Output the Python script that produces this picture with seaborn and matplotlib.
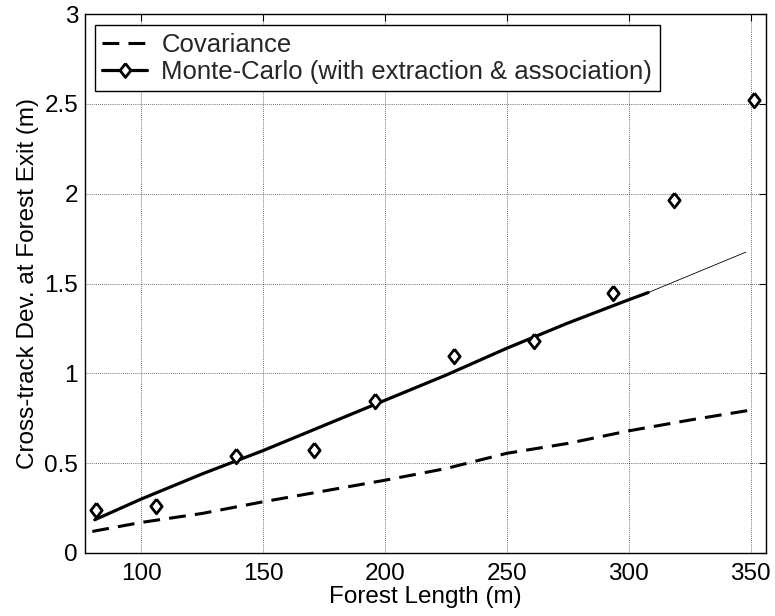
import matplotlib
matplotlib.use("Agg")
import matplotlib.pyplot as plt
import seaborn as sns
import pandas as pd
from matplotlib.lines import Line2D

# ---- data ----
cov_x = [80, 100, 125, 150, 175, 200, 225, 250, 275, 300, 325, 352]
cov_y = [0.12, 0.17, 0.22, 0.285, 0.345, 0.405, 0.47, 0.555, 0.61, 0.68, 0.74, 0.80]

mc_x = [81.5, 106, 139, 171, 196, 228.5, 261, 293.5, 318.5, 351.5]
mc_y = [0.24, 0.26, 0.54, 0.575, 0.845, 1.095, 1.18, 1.45, 1.965, 2.52]

fit_x = [81, 100, 125, 150, 175, 200, 225, 250, 275, 300, 308]
fit_y = [0.185, 0.30, 0.44, 0.57, 0.71, 0.85, 0.99, 1.14, 1.28, 1.41, 1.45]

ext_x = [308, 348]
ext_y = [1.45, 1.675]

x_ticks = [100, 150, 200, 250, 300, 350]
y_ticks = [0, 0.5, 1, 1.5, 2, 2.5, 3]
y_tick_labels = ["0", "0.5", "1", "1.5", "2", "2.5", "3"]

sns.set_theme(style="white")
plt.rcParams['font.family'] = ['Liberation Sans', 'DejaVu Sans']

fig = plt.figure(figsize=(7.75, 6.16), dpi=100)
ax = fig.add_axes([0.1097, 0.1023, 0.9884 - 0.1097, 0.977 - 0.1023])

diamond = [(0, 1), (0.78, 0), (0, -1), (-0.78, 0), (0, 1)]

sns.lineplot(x=cov_x, y=cov_y, ax=ax, color="black", lw=2.2,
             linestyle=(0, (5.5, 3.0)), sort=False)
sns.lineplot(x=fit_x, y=fit_y, ax=ax, color="black", lw=2.3, sort=False)
sns.lineplot(x=ext_x, y=ext_y, ax=ax, color="black", lw=0.6, sort=False)
sns.scatterplot(x=mc_x, y=mc_y, ax=ax, marker=diamond, s=110,
                facecolor="white", edgecolor="black", linewidth=2, zorder=5)

ax.set_xlim(77, 356.3)
ax.set_ylim(0, 3)
ax.set_xticks(x_ticks)
ax.set_yticks(y_ticks)
ax.set_yticklabels(y_tick_labels)
ax.tick_params(direction="in", length=5, width=0.8, top=True, right=True,
               labelsize=17.5, colors="black")
ax.tick_params(axis="x", pad=7)
ax.tick_params(axis="y", pad=5)
ax.grid(True, linestyle=(0, (1, 1.5)), color="black", lw=0.6, alpha=0.75)
for s in ax.spines.values():
    s.set_visible(True)
    s.set_color("black")
    s.set_linewidth(1.0)

ax.set_xlabel("Forest Length (m)", fontsize=17.5, color="black", labelpad=1)
ax.set_ylabel("Cross-track Dev. at Forest Exit (m)", fontsize=17.5, color="black", labelpad=4)

handles = [
    Line2D([], [], color="black", lw=2.2, linestyle=(0, (5.5, 3.0))),
    Line2D([], [], color="black", lw=2.3, marker=diamond, markersize=10,
           markerfacecolor="white", markeredgewidth=2),
]
leg = ax.legend(handles, ["Covariance", "Monte-Carlo (with extraction & association)"],
                loc="upper left", bbox_to_anchor=(0.014, 0.98), fontsize=18.5,
                frameon=True, fancybox=False, framealpha=1, edgecolor="black",
                handlelength=1.75, handletextpad=0.55, borderpad=0.3,
                labelspacing=0.12, borderaxespad=0)
leg.get_frame().set_linewidth(1.0)

fig.savefig("out.png", dpi=100)
